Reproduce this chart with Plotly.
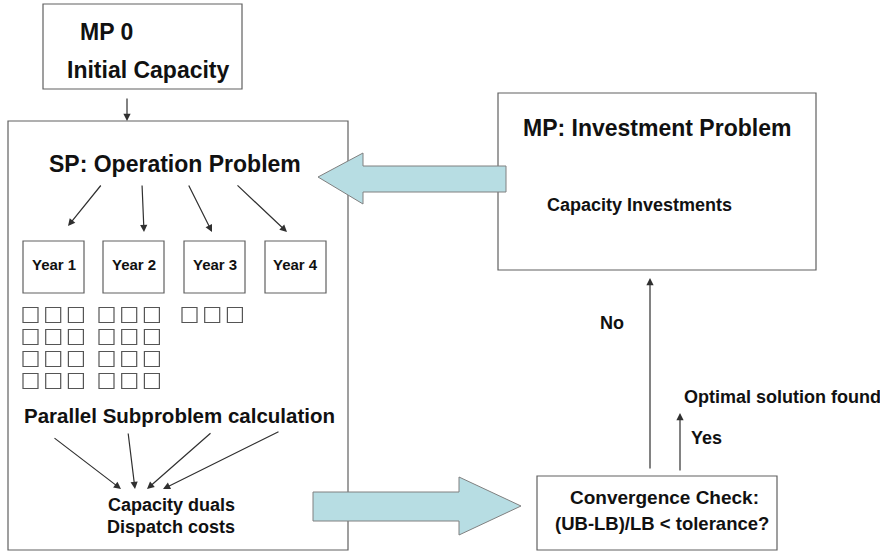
"""
Diagrama del esquema de descomposición (Benders): problema maestro de inversión
y subproblemas de operación por año.
"""

import plotly.graph_objects as go

# Textos y cantidades del diagrama.
MP0_TITULO = "MP 0"
MP0_TEXTO = "Initial Capacity"
SP_TITULO = "SP: Operation Problem"
AÑOS = ["Year 1", "Year 2", "Year 3", "Year 4"]
SUBPROBLEMAS = [12, 12, 3, 0]
PARALELO = "Parallel Subproblem calculation"
SALIDAS_SP = ["Capacity duals", "Dispatch costs"]
MP_TITULO = "MP: Investment Problem"
MP_TEXTO = "Capacity Investments"
CHEQUEO = ["Convergence Check:", "(UB-LB)/LB < tolerance?"]
NO = "No"
SI = "Yes"
OPTIMO = "Optimal solution found"

FUENTE = "Liberation Sans, Arial, sans-serif"
BORDE = "#606060"
FLECHA = "#303030"
AZUL = "#B7DDE3"

POR_FILA = 3


def caja(x0, y0, x1, y1, width=1.2):
    return dict(type="rect", x0=x0, y0=y0, x1=x1, y1=y1, xref="x", yref="y",
                line=dict(color=BORDE, width=width), fillcolor="rgba(0,0,0,0)")


def texto(x, y, t, size, xanchor="left"):
    return dict(x=x, y=y, xref="x", yref="y", text=f"<b>{t}</b>", showarrow=False,
                xanchor=xanchor, yanchor="middle",
                font=dict(family=FUENTE, size=size, color="#111111"))


def flecha(x0, y0, x1, y1):
    return dict(x=x1, y=y1, ax=x0, ay=y0, xref="x", yref="y", axref="x", ayref="y",
                text="", showarrow=True, arrowhead=2, arrowsize=1.2, arrowwidth=1.2,
                arrowcolor=FLECHA, standoff=0, startstandoff=0)


def main():

    fig = go.Figure()

    shapes = []
    annotations = []

    # Cajas principales.
    shapes.append(caja(43, 4, 242, 89))
    shapes.append(caja(8, 121, 348, 550))
    shapes.append(caja(498, 93, 816, 270))
    shapes.append(caja(537, 476, 777, 550))

    # Cajas de cada año.
    lefts = [23, 103, 184, 265]
    for x0 in lefts:
        shapes.append(caja(x0, 241, x0 + 61, 293))

    # Flechas azules grandes.
    shapes.append(dict(
        type="path", xref="x", yref="y",
        path="M 506 166 L 363 166 L 363 153 L 318 177 L 363 204 L 363 192 L 506 192 Z",
        fillcolor=AZUL, line=dict(color="#808080", width=1)))
    shapes.append(dict(
        type="path", xref="x", yref="y",
        path="M 313 492 L 459 492 L 459 477 L 521 506 L 459 535 L 459 521 L 313 521 Z",
        fillcolor=AZUL, line=dict(color="#808080", width=1)))

    # Subproblemas: cuadritos de 3 por fila debajo de cada año.
    xs, ys = [], []
    grupo_x = [30.5, 106.5, 189.5, 270.5]
    for i, n in enumerate(SUBPROBLEMAS):
        for k in range(n):
            xs.append(grupo_x[i] + (k % POR_FILA) * 22.7)
            ys.append(315 + (k // POR_FILA) * 22)

    fig.add_trace(go.Scatter(
        x=xs, y=ys, mode="markers", hoverinfo="skip",
        marker=dict(symbol="square-open", size=15, color="#555555",
                    line=dict(width=1.2, color="#555555")),
    ))

    # Textos.
    annotations.append(texto(78, 32, MP0_TITULO, 23))
    annotations.append(texto(65, 70, MP0_TEXTO, 23))
    annotations.append(texto(47, 164, SP_TITULO, 23))
    for x0, año in zip(lefts, AÑOS):
        annotations.append(texto(x0 + 30.5, 264, año, 15, "center"))
    annotations.append(texto(22, 415, PARALELO, 20.5))
    annotations.append(texto(171, 505, SALIDAS_SP[0], 18, "center"))
    annotations.append(texto(171, 527, SALIDAS_SP[1], 18, "center"))
    annotations.append(texto(521, 128, MP_TITULO, 23))
    annotations.append(texto(545, 205, MP_TEXTO, 18))
    annotations.append(texto(664, 497, CHEQUEO[0], 19, "center"))
    annotations.append(texto(662, 523, CHEQUEO[1], 18.5, "center"))
    annotations.append(texto(598, 323, NO, 18))
    annotations.append(texto(689, 438, SI, 18))
    annotations.append(texto(682, 397, OPTIMO, 18))

    # Flechas finas.
    annotations.append(flecha(127, 97, 127, 121))
    annotations.append(flecha(102, 184, 68, 226))
    annotations.append(flecha(142, 184, 144, 232))
    annotations.append(flecha(188, 184, 212, 232))
    annotations.append(flecha(236, 184, 287, 232))
    annotations.append(flecha(53, 437, 121, 489))
    annotations.append(flecha(128, 432, 135, 489))
    annotations.append(flecha(212, 432, 147, 489))
    annotations.append(flecha(280, 431, 163, 489))
    annotations.append(flecha(650, 470, 650, 278))
    annotations.append(flecha(680, 472, 680, 413))

    fig.update_xaxes(range=[0, 880], visible=False, fixedrange=True)
    fig.update_yaxes(range=[552, 0], visible=False, fixedrange=True)

    fig.update_layout(
        width=880,
        height=552,
        margin=dict(l=0, r=0, t=0, b=0),
        showlegend=False,
        plot_bgcolor="white",
        paper_bgcolor="white",
        shapes=shapes,
        annotations=annotations,
    )

    # La página trae un margen de 8 px en el body; lo quitamos.
    fig.write_html(
        "out.html",
        config={"displayModeBar": False},
        post_script="document.body.style.margin='0px';",
    )


if __name__ == "__main__":

    main()
